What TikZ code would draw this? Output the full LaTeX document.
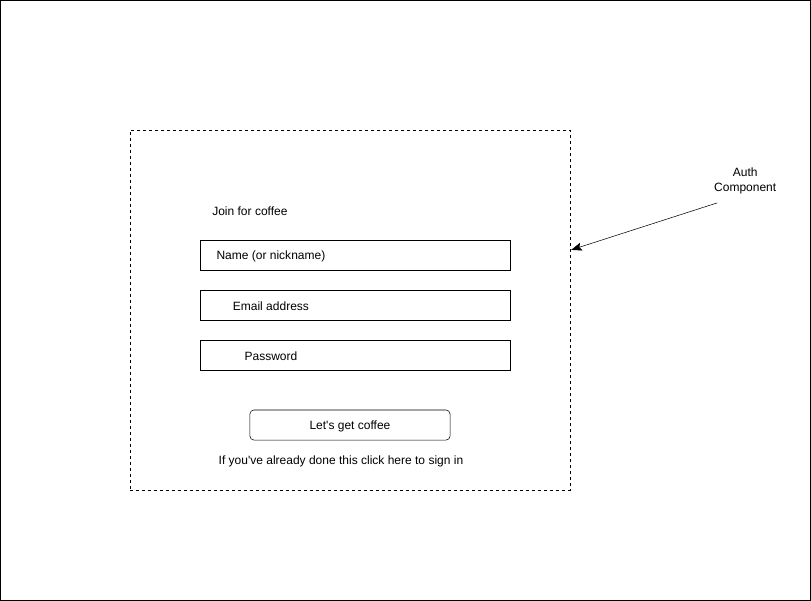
\documentclass[tikz,border=0pt]{standalone}
\usepackage{fontspec}
\setmainfont{Liberation Sans}
\usetikzlibrary{arrows.meta}

\begin{document}
\begin{tikzpicture}[x=0.75pt, y=-0.75pt,
  field/.style={draw, minimum width=232.5pt, minimum height=22.5pt, inner sep=0pt},
  button/.style={draw, rounded corners=3pt, minimum width=150pt, minimum height=22.5pt, inner sep=0pt},
  txt/.style={font=\fontsize{9}{11}\selectfont, inner sep=0pt}]

% cadre
\draw (0.5,0.5) rectangle (810.5,600.5);

% composant
\node[draw, dash pattern=on 2.25pt off 2.25pt, minimum width=330pt, minimum height=270pt, inner sep=0pt] (auth) at (350,310) {};

\node[txt] (title) at (250,211) {Join for coffee};

% champs
\node[field] (name) at (355,255) {};
\node[txt] (nametxt) at (271,256) {Name (or nickname)};

\node[field] (email) at (355,305) {};
\node[txt] (emailtxt) at (271,306) {Email address};

\node[field] (pass) at (355,355) {};
\node[txt] (passtxt) at (271,356) {Password};

% bouton
\node[button] (go) at (350,425) {};
\node[txt] (gotxt) at (350,426) {Let\textquotesingle s get coffee};

\node[txt] (signin) at (341,461) {If you\textquotesingle ve already done this click here to sign in};

% legende
\node[txt, align=center] (lbl) at (745,181) {Auth\\Component};
\coordinate (tip) at (571,250);
\draw[-{Stealth[length=8pt, width=6pt, inset=1.5pt]}] (717,203) -- (tip);

\end{tikzpicture}
\end{document}
